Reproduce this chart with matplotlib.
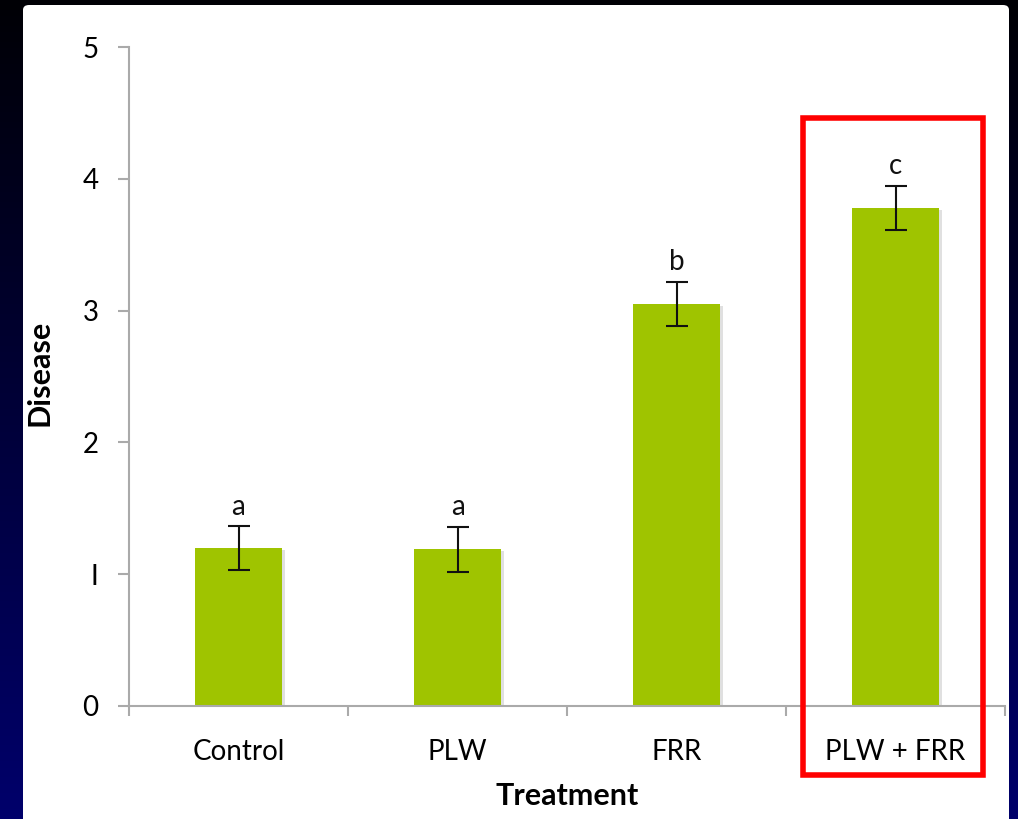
import numpy as np
import matplotlib
matplotlib.use('Agg')
import matplotlib.pyplot as plt
from matplotlib.patches import FancyBboxPatch, Rectangle
import matplotlib.patheffects as pe

# 数据
treatments = ['Control', 'PLW', 'FRR', 'PLW + FRR']
disease = [1.20, 1.19, 3.05, 3.78]
disease_err = [0.165, 0.17, 0.17, 0.165]
letters = ['a', 'a', 'b', 'c']

plt.rcParams['font.family'] = ['Lato', 'DejaVu Sans']

fig = plt.figure(figsize=(10.18, 8.19), dpi=100)

# 背景渐变：上黑下深蓝
bg = fig.add_axes([0, 0, 1, 1], zorder=-10)
grad = np.linspace(0, 1, 256).reshape(-1, 1)
cols = np.zeros((256, 1, 3))
cols[:, 0, 2] = 0.02 + 0.40 * grad[:, 0]
bg.imshow(cols, aspect='auto', extent=[0, 1, 0, 1], origin='upper')
bg.set_xlim(0, 1)
bg.set_ylim(0, 1)
bg.axis('off')

# 白色面板
panel = FancyBboxPatch((23 / 1018, -0.02), (1009 - 23) / 1018, (819 - 5) / 819 + 0.02,
                       boxstyle='round,pad=0,rounding_size=0.006',
                       transform=fig.transFigure, facecolor='white', edgecolor='none', zorder=-5)
fig.patches.append(panel)

ax = fig.add_axes([129 / 1018, 113 / 819, (1005 - 129) / 1018, (706 - 47) / 819])
ax.set_facecolor('none')

x = np.arange(len(treatments))
bars = ax.bar(x, disease, width=0.4, color='#9fc400', zorder=2,
              path_effects=[pe.SimplePatchShadow(offset=(2, -1.5), shadow_rgbFace='#999999', alpha=0.3),
                            pe.Normal()])
ax.errorbar(x, disease, yerr=disease_err, fmt='none', ecolor='#111111',
            elinewidth=1.5, capsize=8, capthick=1.5, zorder=3)

for xi, v, e, t in zip(x, disease, disease_err, letters):
    ax.text(xi, v + e + 0.05, t, ha='center', va='bottom', fontsize=20, color='#111111')

ax.set_xlim(-0.5, 3.5)
ax.set_ylim(0, 5)
ax.set_yticks([0, 1, 2, 3, 4, 5])
ax.set_yticklabels(['0', 'I', '2', '3', '4', '5'])
ax.set_xticks(np.arange(-0.5, 4, 1))
ax.set_xticklabels([])
ax.set_xticks(x, minor=True)
ax.set_xticklabels(treatments, minor=True, fontsize=20)
ax.tick_params(axis='x', which='minor', length=0, pad=24)
ax.tick_params(axis='x', which='major', length=7, width=1.5, color='#aaaaaa', direction='out')
ax.tick_params(axis='y', length=8, width=1.5, color='#aaaaaa', labelsize=20, pad=14)

for s in ['top', 'right']:
    ax.spines[s].set_visible(False)
for s in ['left', 'bottom']:
    ax.spines[s].set_color('#aaaaaa')
    ax.spines[s].set_linewidth(1.5)

ax.set_xlabel('Treatment', fontsize=22, fontweight='bold', labelpad=12)
ax.set_ylabel('Disease', fontsize=22, fontweight='bold')
ax.yaxis.set_label_coords(-0.086, 0.505)

# 红框
box = Rectangle((803 / 1018, (819 - 775) / 819), (983 - 803) / 1018, (775 - 118) / 819,
                transform=fig.transFigure, fill=False, edgecolor='#ff0000', linewidth=4, zorder=10)
fig.patches.append(box)

fig.savefig('out.png', dpi=100)
